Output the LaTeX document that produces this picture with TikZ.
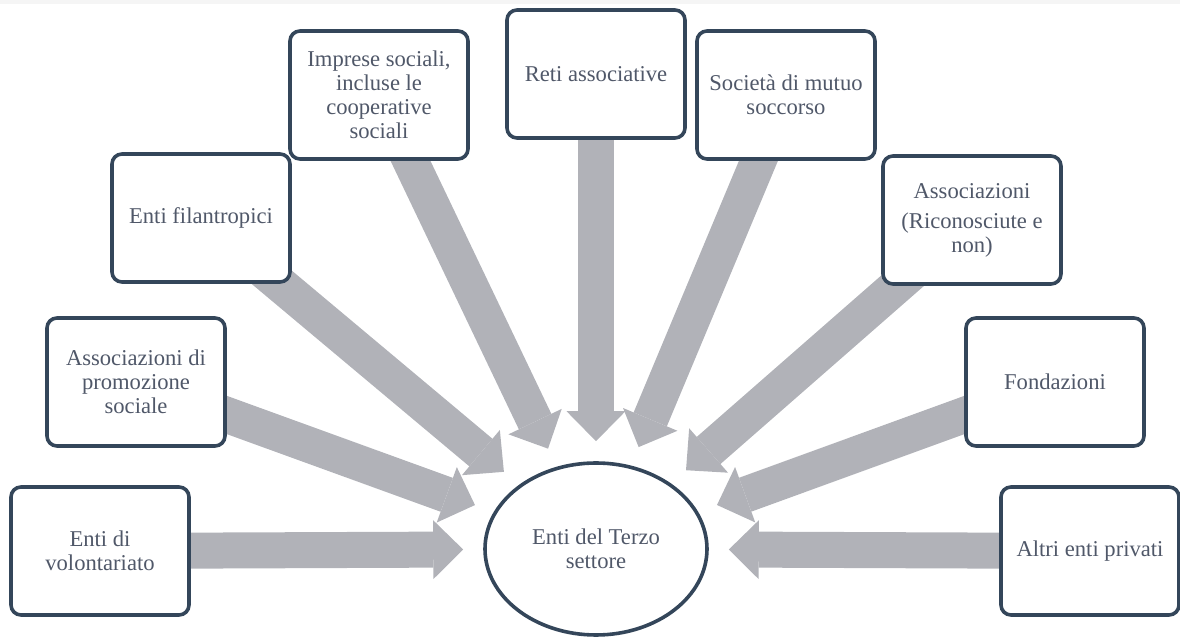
\documentclass[tikz,border=0pt]{standalone}
\usepackage{fontspec}
\setmainfont{Liberation Serif}
\usetikzlibrary{shapes.geometric}
\usetikzlibrary{arrows.meta}
\usetikzlibrary{backgrounds}
\definecolor{boxline}{HTML}{34465A}
\definecolor{boxtext}{HTML}{505869}
\definecolor{flowgray}{HTML}{B1B2B8}

\begin{document}
\begin{tikzpicture}[x=0.5pt, y=-0.5pt,
    entity/.style={draw=boxline, line width=1.8pt, rounded corners=5pt, fill=white,
        align=center, text=boxtext, minimum width=89pt, minimum height=64pt, inner sep=2pt,
        font=\fontsize{11.3}{12}\selectfont},
    sector/.style={draw=boxline, line width=1.8pt, ellipse, fill=white,
        align=center, text=boxtext, minimum width=111pt, minimum height=86pt, inner sep=0pt,
        font=\fontsize{11.3}{12}\selectfont},
    flow/.style={draw=flowgray, line width=18pt,
        -{Triangle[length=15pt, width=29.5pt, line width=0pt]}, shorten >=10pt}]
    \useasboundingbox (0,0) rectangle (1180,641);
    \fill[gray!8] (0,0) rectangle (1180,4);

    % Centre of the diagram
    \node[sector] (ets) at (596,549) {Enti del Terzo\\settore};

    % Types of entities, left to right
    \node[entity] (vol) at (100,551) {Enti di\\volontariato};
    \node[entity] (aps) at (136,382) {Associazioni di\\promozione\\sociale};
    \node[entity] (fil) at (201,218) {Enti filantropici};
    \node[entity] (imp) at (379,95) {Imprese sociali,\\incluse le\\cooperative\\sociali};
    \node[entity] (reti) at (596,74) {Reti associative};
    \node[entity] (sms) at (786,95) {Società di mutuo\\soccorso};
    \node[entity] (ass) at (972,220) {Associazioni\\[3pt](Riconosciute e\\non)};
    \node[entity] (fond) at (1055,382) {Fondazioni};
    \node[entity] (altri) at (1090,551) {Altri enti privati};

    % Block arrows behind the boxes
    \begin{scope}[on background layer]
        \draw[flow] (vol.center) -- (ets);
        \draw[flow] (aps.center) -- (ets);
        \draw[flow] (fil.center) -- (ets);
        \draw[flow] (imp.center) -- (ets);
        \draw[flow] (reti.center) -- (ets);
        \draw[flow] (sms.center) -- (ets);
        \draw[flow] (ass.center) -- (ets);
        \draw[flow] (fond.center) -- (ets);
        \draw[flow] (altri.center) -- (ets);
    \end{scope}
\end{tikzpicture}
\end{document}
